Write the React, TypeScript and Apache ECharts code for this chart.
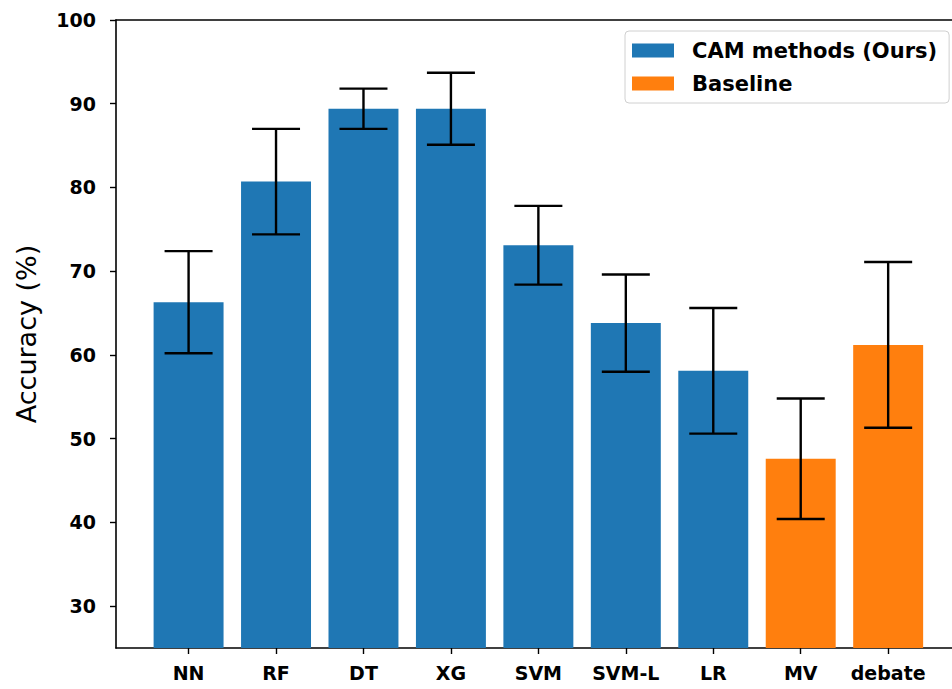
import React, { useEffect, useRef } from "react";
import * as echarts from "echarts";

const categories = ["NN", "RF", "DT", "XG", "SVM", "SVM-L", "LR", "MV", "debate"];
const camMeans = [66.3, 80.7, 89.4, 89.4, 73.1, 63.8, 58.1];
const camErrors = [6.1, 6.3, 2.4, 4.3, 4.7, 5.8, 7.5];
const baselineMeans = [47.6, 61.2];
const baselineErrors = [7.2, 9.9];
const yTicks = [30, 40, 50, 60, 70, 80, 90, 100];

const Y_MIN = 25;
const Y_MAX = 100;
const X_MIN = -0.83;
const X_MAX = 8.73;
const BLUE = "#1f77b4";
const ORANGE = "#ff7f0e";
const FONT = "DejaVu Sans";

function makeRender(color: string) {
  return (params: any, api: any) => {
    const x = api.value(0);
    const v = api.value(1);
    const e = api.value(2);
    const top = api.coord([x, v]);
    const base = api.coord([x, Y_MIN]);
    const w = api.size([0.8, 0])[0];
    const hi = api.coord([x, v + e]);
    const lo = api.coord([x, v - e]);
    const cap = 24;
    const ls = { stroke: "#000", lineWidth: 2.4 };
    return {
      type: "group",
      children: [
        {
          type: "rect",
          shape: { x: top[0] - w / 2, y: top[1], width: w, height: base[1] - top[1] },
          style: { fill: color },
        },
        { type: "line", shape: { x1: hi[0], y1: hi[1], x2: lo[0], y2: lo[1] }, style: ls },
        { type: "line", shape: { x1: hi[0] - cap, y1: hi[1], x2: hi[0] + cap, y2: hi[1] }, style: ls },
        { type: "line", shape: { x1: lo[0] - cap, y1: lo[1], x2: lo[0] + cap, y2: lo[1] }, style: ls },
      ],
    };
  };
}

export default function App() {
  const ref = useRef<HTMLDivElement>(null);
  useEffect(() => {
    if (!ref.current) return;
    const chart = echarts.init(ref.current, null, { renderer: "svg" });
    const camData = camMeans.map((v, i) => [i, v, camErrors[i]]);
    const baseData = baselineMeans.map((v, i) => [camMeans.length + i, v, baselineErrors[i]]);
    const tickValues = categories.map((_, i) => i);
    chart.setOption({
      animation: false,
      backgroundColor: "#fff",
      grid: { left: 116, top: 20, right: 0, bottom: 41, outerBoundsMode: "none", containLabel: false },
      legend: {
        orient: "vertical",
        left: 625,
        top: 31,
        padding: [9, 12, 9, 7],
        itemWidth: 42,
        itemHeight: 14,
        itemGap: 12,
        borderColor: "#d0d0d0",
        borderWidth: 1,
        borderRadius: 4,
        backgroundColor: "rgba(255,255,255,0.8)",
        textStyle: {
          fontFamily: FONT,
          fontWeight: "bold",
          fontSize: 21,
          lineHeight: 20,
          color: "#000",
          padding: [0, 0, 0, 13],
        },
        data: [
          { name: "CAM methods (Ours)", icon: "rect", itemStyle: { color: BLUE } },
          { name: "Baseline", icon: "rect", itemStyle: { color: ORANGE } },
        ],
      },
      xAxis: [
        {
          type: "value",
          min: X_MIN,
          max: X_MAX,
          splitLine: { show: false },
          axisLine: { show: true, onZero: false, lineStyle: { color: "#000", width: 1.6 } },
          axisTick: {
            show: true,
            customValues: tickValues,
            length: 6,
            lineStyle: { color: "#000", width: 1.4 },
          },
          axisLabel: {
            customValues: tickValues,
            formatter: (v: number) => categories[Math.round(v)] ?? "",
            fontFamily: FONT,
            fontWeight: "bold",
            fontSize: 19,
            color: "#000",
            margin: 15,
          },
        },
        {
          type: "value",
          position: "top",
          min: X_MIN,
          max: X_MAX,
          splitLine: { show: false },
          axisLine: { show: true, onZero: false, lineStyle: { color: "#000", width: 1.6 } },
          axisTick: { show: false },
          axisLabel: { show: false },
        },
      ],
      yAxis: {
        type: "value",
        min: Y_MIN,
        max: Y_MAX,
        name: "Accuracy (%)",
        nameLocation: "middle",
        nameGap: 76,
        nameTextStyle: { fontFamily: FONT, fontSize: 27, color: "#000" },
        splitLine: { show: false },
        axisLine: { show: true, onZero: false, lineStyle: { color: "#000", width: 1.6 } },
        axisTick: {
          show: true,
          customValues: yTicks,
          length: 6,
          lineStyle: { color: "#000", width: 1.4 },
        },
        axisLabel: {
          customValues: yTicks,
          fontFamily: FONT,
          fontWeight: "bold",
          fontSize: 19,
          color: "#000",
          margin: 20,
        },
      },
      series: [
        {
          name: "CAM methods (Ours)",
          type: "custom",
          xAxisIndex: 0,
          itemStyle: { color: BLUE },
          encode: { x: 0, y: 1 },
          clip: true,
          renderItem: makeRender(BLUE),
          data: camData,
        },
        {
          name: "Baseline",
          type: "custom",
          xAxisIndex: 0,
          itemStyle: { color: ORANGE },
          encode: { x: 0, y: 1 },
          clip: true,
          renderItem: makeRender(ORANGE),
          data: baseData,
        },
      ],
    });
    return () => chart.dispose();
  }, []);
  return (
    <div
      ref={ref}
      style={{ position: "absolute", left: 0, top: 0, width: 952, height: 689 }}
    />
  );
}
